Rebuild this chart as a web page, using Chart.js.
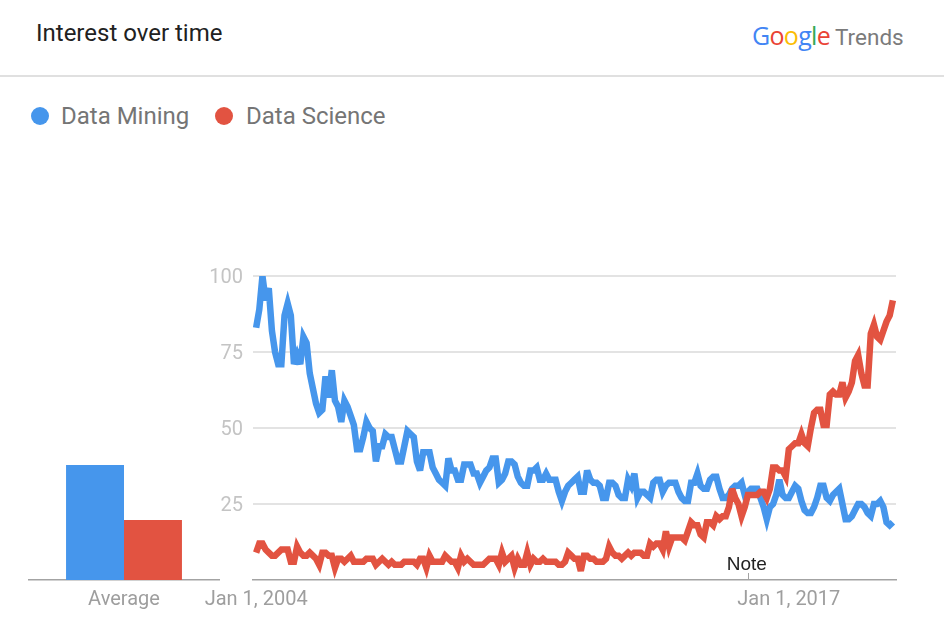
<!DOCTYPE html>
<html>
<head>
<meta charset="utf-8">
<title>Interest over time</title>
<script src="https://cdn.jsdelivr.net/npm/chart.js@4/dist/chart.umd.min.js"></script>
<style>
html, body { margin: 0; padding: 0; background: #fff; }
body { width: 944px; height: 620px; position: relative; overflow: hidden; font-family: Roboto, sans-serif; }
#title { position: absolute; left: 36px; top: 18px; font-size: 24px; line-height: 30px; color: #212121; font-family: Roboto, sans-serif; }
#logo { position: absolute; left: 752px; top: 19px; font-size: 25px; line-height: 32px; font-family: "Open Sans", sans-serif; font-weight: 500; letter-spacing: -0.7px; white-space: nowrap; }
#logo .t { color: #7b7b7b; margin-left: 5px; font-family: Roboto, sans-serif; font-weight: 400; font-size: 22.5px; letter-spacing: 0; }
#rule { position: absolute; left: 0; top: 75px; width: 944px; height: 2px; background: #e0e0e0; }
.leg { position: absolute; top: 100px; font-size: 24px; line-height: 32px; color: #757575; white-space: nowrap; }
.dot { position: absolute; top: 107px; width: 18px; height: 18px; border-radius: 50%; }
canvas { position: absolute; top: 0; }
#avgChart { left: 0; }
#lineChart { left: 190px; }
</style>
</head>
<body>
<div id="title">Interest over time</div>
<div id="logo"><span style="color:#4285f4">G</span><span style="color:#ea4335">o</span><span style="color:#fbbc05">o</span><span style="color:#4285f4">g</span><span style="color:#34a853">l</span><span style="color:#ea4335">e</span><span class="t">Trends</span></div>
<div id="rule"></div>
<div class="dot" style="left:31px;background:#4696ec"></div>
<div class="leg" style="left:61px">Data Mining</div>
<div class="dot" style="left:215px;background:#e25341"></div>
<div class="leg" style="left:246px">Data Science</div>
<canvas id="avgChart" width="240" height="620"></canvas>
<canvas id="lineChart" width="754" height="620"></canvas>
<script>
// monthly values
var dataMining = [83,89,100,92,96,82,75,71,71,87,91,87,71,74,71,80,78,68,63,58,
    55,56,67,60,69,59,57,52,59,57,54,51,43,43,47,52,50,49,39,44,
    44,48,47,47,43,39,39,44,49,48,47,39,36,42,42,42,37,35,33,32,
    31,40,36,36,33,33,38,38,38,35,35,32,34,36,37,40,40,32,33,35,
    39,39,38,34,32,31,31,36,36,37,33,33,35,33,33,33,29,26,29,31,
    32,33,34,29,29,36,33,32,32,31,27,27,32,32,31,28,27,27,33,31,
    35,27,29,29,28,27,32,33,33,29,31,32,32,32,29,27,26,26,32,32,
    35,31,30,30,33,34,34,30,27,27,28,30,31,31,32,28,29,30,30,30,
    27,24,20,24,25,28,33,28,27,27,29,31,30,26,23,22,22,24,27,31,
    31,27,26,28,29,30,25,20,20,21,23,25,25,24,22,21,25,25,26,24,
    19,18,19];
var dataScience = [9,12,12,10,9,8,8,9,10,10,10,6,6,11,9,8,8,9,8,7,
    5,9,9,8,8,4,7,7,6,7,8,6,6,6,6,7,7,7,5,6,
    7,6,5,6,5,5,5,6,6,6,6,5,7,7,4,8,6,6,6,6,
    8,7,6,6,4,8,6,7,6,5,5,5,5,6,7,7,7,5,9,6,
    7,8,4,7,5,5,9,5,7,6,6,7,6,6,6,6,5,5,6,9,
    8,7,7,3,8,8,7,7,6,6,6,7,11,9,8,8,7,8,9,8,
    9,9,9,8,8,12,11,12,12,10,16,11,14,14,14,14,13,16,19,18,
    18,15,14,19,19,18,21,20,21,21,24,30,27,25,21,24,28,28,28,28,
    29,29,27,30,37,37,36,36,34,43,44,45,45,48,45,44,50,55,56,56,
    51,51,61,62,61,61,65,60,62,65,72,74,68,64,64,81,84,80,79,82,
    85,87,92];
var yTicks = [0,25,50,75,100];
var xTickPositions = [0,169];
var xTickLabels = ['Jan 1, 2004','Jan 1, 2017'];
var noteMonth = 156;
var avgLabels = ['Average'];
var avgMining = [37.8];
var avgScience = [19.7];

var blue = '#4696ec';
var red = '#e25341';
var axisGrey = '#a3a3a3';
var fontName = 'Roboto, sans-serif';

function toPoints(values){
    return values.map(function(v, i){ return {x: i, y: v}; });
}

// small tick + label over Jan 2017
var notePlugin = {
    id: 'note',
    beforeDatasetsDraw: function(c){
        c.ctx.miterLimit = 4; // sharp peaks get a flat top
    },
    afterDraw: function(c){
        var x = c.scales.x.getPixelForValue(noteMonth);
        var bottom = c.chartArea.bottom;
        var g = c.ctx;
        g.save();
        g.strokeStyle = axisGrey;
        g.lineWidth = 1;
        g.beginPath();
        g.moveTo(Math.round(x) + 0.5, bottom - 7);
        g.lineTo(Math.round(x) + 0.5, bottom);
        g.stroke();
        g.fillStyle = '#222';
        g.font = '19px "Liberation Sans", Arial, sans-serif';
        g.textAlign = 'center';
        g.textBaseline = 'alphabetic';
        g.fillText('Note', x - 1, bottom - 10);
        g.restore();
    }
};

new Chart(document.getElementById('lineChart').getContext('2d'), {
    type: 'line',
    data: {
        datasets: [
            {label: 'Data Mining', data: toPoints(dataMining), borderColor: blue, order: 2},
            {label: 'Data Science', data: toPoints(dataScience), borderColor: red, order: 1}
        ]
    },
    plugins: [notePlugin],
    options: {
        responsive: false,
        animation: false,
        layout: {padding: {left: 0, right: 48, top: 276, bottom: 0}},
        plugins: {legend: {display: false}, tooltip: {enabled: false}},
        elements: {
            point: {radius: 0},
            line: {borderWidth: 6.5, tension: 0, borderJoinStyle: 'miter', borderCapStyle: 'butt'}
        },
        datasets: {line: {clip: 0, fill: false}},
        scales: {
            x: {
                type: 'linear',
                min: -1,
                max: 203,
                afterBuildTicks: function(s){ s.ticks = xTickPositions.map(function(v){ return {value: v}; }); },
                afterFit: function(s){ s.height = 40; },
                grid: {display: false},
                border: {color: axisGrey, width: 1.5},
                ticks: {
                    autoSkip: false,
                    maxRotation: 0,
                    padding: 0,
                    color: '#9e9e9e',
                    font: {family: fontName, size: 20},
                    callback: function(v){ return xTickLabels[xTickPositions.indexOf(v)]; }
                }
            },
            y: {
                min: 0,
                max: 100,
                afterBuildTicks: function(s){ s.ticks = yTicks.map(function(v){ return {value: v}; }); },
                afterFit: function(s){ s.width = 63; },
                grid: {
                    color: function(ctx){ return ctx.tick.value === 0 ? 'rgba(0,0,0,0)' : '#e3e3e3'; },
                    lineWidth: 2,
                    drawTicks: false
                },
                border: {display: false},
                ticks: {
                    padding: 10,
                    labelOffset: 2,
                    color: '#c4c4c4',
                    font: {family: fontName, size: 20},
                    callback: function(v){ return v === 0 ? '' : v; }
                }
            }
        }
    }
});

new Chart(document.getElementById('avgChart').getContext('2d'), {
    type: 'bar',
    data: {
        labels: avgLabels,
        datasets: [
            {label: 'Data Mining', data: avgMining, backgroundColor: blue},
            {label: 'Data Science', data: avgScience, backgroundColor: red}
        ]
    },
    options: {
        responsive: false,
        animation: false,
        layout: {padding: {left: 29, right: 21, top: 276, bottom: 0}},
        plugins: {legend: {display: false}, tooltip: {enabled: false}},
        datasets: {bar: {barPercentage: 1, categoryPercentage: 0.61}},
        scales: {
            x: {
                afterFit: function(s){ s.height = 40; },
                grid: {display: false},
                border: {color: axisGrey, width: 1.5},
                ticks: {padding: 0, color: '#9e9e9e', font: {family: fontName, size: 20}}
            },
            y: {min: 0, max: 100, display: false}
        }
    }
});
</script>
</body>
</html>
